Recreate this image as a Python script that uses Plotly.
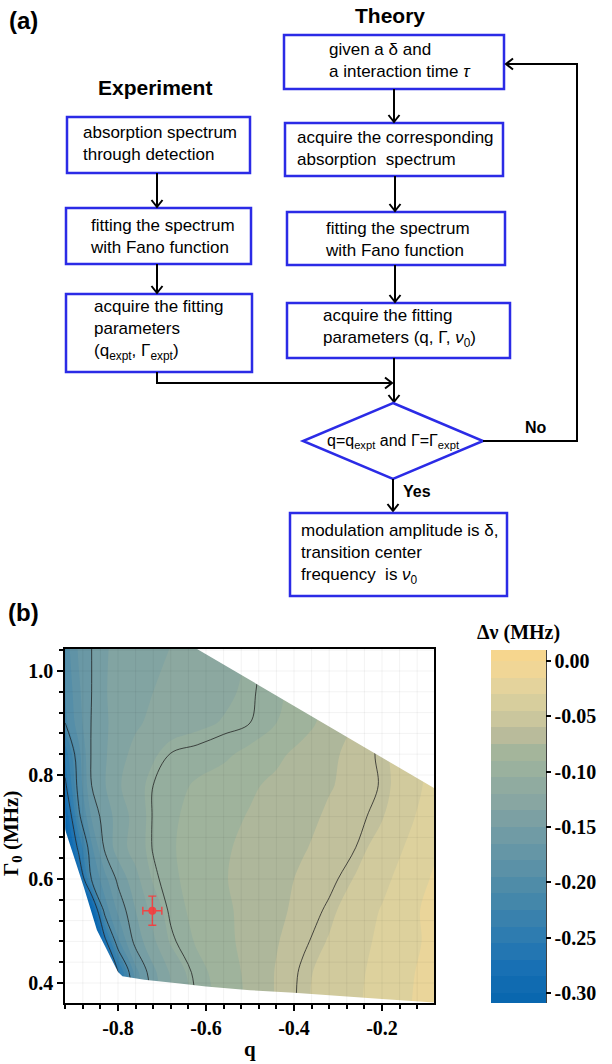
import numpy as np
import plotly.graph_objects as go

W, H = 612, 1064

# ---------------- panel (b) data ----------------
q_grid = [-0.92, -0.89, -0.86, -0.83, -0.80, -0.76, -0.72, -0.68, -0.62, -0.56,
          -0.50, -0.44, -0.38, -0.32, -0.26, -0.20, -0.14, -0.08]
gamma_grid = [0.36, 0.42, 0.48, 0.54, 0.60, 0.66, 0.72, 0.78, 0.84, 0.90, 0.96, 1.05]
dnu_g036 = [-0.52, -0.47, -0.42, -0.35, -0.26, -0.178, -0.143, -0.124, -0.098, -0.085, -0.072, -0.059, -0.047, -0.040, -0.032, -0.024, -0.016, -0.008]
dnu_g042 = [-0.50, -0.45, -0.40, -0.33, -0.25, -0.171, -0.139, -0.118, -0.095, -0.083, -0.071, -0.059, -0.048, -0.040, -0.033, -0.025, -0.017, -0.009]
dnu_g048 = [-0.46, -0.41, -0.36, -0.26, -0.183, -0.144, -0.123, -0.103, -0.088, -0.079, -0.070, -0.061, -0.052, -0.044, -0.035, -0.027, -0.019, -0.011]
dnu_g054 = [-0.42, -0.36, -0.30, -0.188, -0.162, -0.135, -0.114, -0.097, -0.085, -0.078, -0.070, -0.063, -0.056, -0.048, -0.038, -0.029, -0.019, -0.010]
dnu_g060 = [-0.38, -0.29, -0.197, -0.170, -0.146, -0.125, -0.103, -0.094, -0.082, -0.076, -0.070, -0.064, -0.058, -0.053, -0.044, -0.034, -0.023, -0.013]
dnu_g066 = [-0.32, -0.243, -0.183, -0.147, -0.128, -0.113, -0.099, -0.092, -0.082, -0.077, -0.071, -0.066, -0.061, -0.056, -0.050, -0.039, -0.028, -0.017]
dnu_g072 = [-0.29, -0.206, -0.163, -0.142, -0.130, -0.114, -0.099, -0.093, -0.084, -0.079, -0.074, -0.069, -0.064, -0.058, -0.053, -0.046, -0.033, -0.021]
dnu_g078 = [-0.255, -0.192, -0.150, -0.136, -0.122, -0.111, -0.100, -0.095, -0.088, -0.083, -0.077, -0.072, -0.066, -0.061, -0.056, -0.049, -0.037, -0.024]
dnu_g084 = [-0.235, -0.186, -0.148, -0.137, -0.125, -0.116, -0.107, -0.0995, -0.0966, -0.093, -0.0855, -0.078, -0.0705, -0.063, -0.0555, -0.048, -0.037, -0.026]
dnu_g090 = [-0.200, -0.172, -0.149, -0.138, -0.127, -0.122, -0.117, -0.112, -0.108, -0.104, -0.100, -0.090, -0.080, -0.070, -0.059, -0.049, -0.039, -0.029]
dnu_g096 = [-0.195, -0.168, -0.150, -0.137, -0.126, -0.123, -0.120, -0.118, -0.115, -0.108, -0.102, -0.093, -0.083, -0.072, -0.062, -0.052, -0.042, -0.032]
dnu_g105 = [-0.188, -0.163, -0.150, -0.138, -0.128, -0.124, -0.122, -0.120, -0.117, -0.110, -0.104, -0.094, -0.084, -0.075, -0.065, -0.055, -0.045, -0.035]
dnu = [dnu_g036, dnu_g042, dnu_g048, dnu_g054, dnu_g060, dnu_g066,
       dnu_g072, dnu_g078, dnu_g084, dnu_g090, dnu_g096, dnu_g105]

# boundary of the computed (q, Gamma) region
region_q = [-0.93, -0.656, -0.07, -0.07, -0.20, -0.40, -0.50, -0.60, -0.66, -0.74,
            -0.79, -0.80, -0.818, -0.848, -0.878, -0.905, -0.92, -0.93]
region_gamma = [1.06, 1.06, 0.769, 0.362, 0.369, 0.381, 0.386, 0.393, 0.399, 0.406,
                0.413, 0.421, 0.451, 0.502, 0.585, 0.656, 0.694, 0.72]

# experimental point
q_expt = [-0.722]
gamma_expt = [0.539]
q_err = [0.0216]
gamma_err = [0.028]

x_tick_vals = [-0.8, -0.6, -0.4, -0.2]
x_tick_text = ["-0.8", "-0.6", "-0.4", "-0.2"]
y_tick_vals = [0.4, 0.6, 0.8, 1.0]
y_tick_text = ["0.4", "0.6", "0.8", "1.0"]
cb_tick_vals = [0.0, -0.05, -0.10, -0.15, -0.20, -0.25, -0.30]
cb_tick_text = ["0.00", "-0.05", "-0.10", "-0.15", "-0.20", "-0.25", "-0.30"]

# ---------------- panel (a) text ----------------
label_a = "(a)"
label_b = "(b)"
title_exp = "Experiment"
title_theory = "Theory"
exp_texts = ["absorption spectrum<br>through detection",
             "fitting the spectrum<br>with Fano function",
             "acquire the fitting<br>parameters<br>(q<sub>expt</sub>, Γ<sub>expt</sub>)"]
theory_texts = ["given a δ and<br>a interaction time <i>τ</i>",
                "acquire the corresponding<br>absorption  spectrum",
                "fitting the spectrum<br>with Fano function",
                "acquire the fitting<br>parameters (q, Γ, <i>ν</i><sub>0</sub>)"]
decision_text = "q=q<sub>expt</sub> and Γ=Γ<sub>expt</sub>"
result_text = "modulation amplitude is δ,<br>transition center<br>frequency  is <i>ν</i><sub>0</sub>"
no_text = "No"
yes_text = "Yes"

# ---------------- styling helpers ----------------
BLUE = "#2b2be6"
SANS = "Liberation Sans, Arial, sans-serif"
SERIF = "Liberation Serif, Times New Roman, serif"
ZMIN, ZMAX = -0.309, 0.010
base_pts = [(-0.309, '#0766ae'), (-0.28, '#166fb4'), (-0.25, '#2c7bb1'), (-0.22, '#4286aa'),
            (-0.19, '#5990a7'), (-0.16, '#6e9aa5'), (-0.13, '#86a5a2'), (-0.10, '#98b09e'),
            (-0.08, '#a6b69b'), (-0.07, '#b6b99b'), (-0.05, '#cdc89d'), (-0.03, '#ddd19d'),
            (-0.015, '#ead59a'), (0.0, '#f5d691'), (0.01, '#f7d58c')]


def hex2rgb(h):
    return tuple(int(h[i:i + 2], 16) for i in (1, 3, 5))


def color_at(v):
    v = min(max(v, base_pts[0][0]), base_pts[-1][0])
    for (v0, c0), (v1, c1) in zip(base_pts[:-1], base_pts[1:]):
        if v0 <= v <= v1:
            t = (v - v0) / (v1 - v0) if v1 > v0 else 0
            a, b = hex2rgb(c0), hex2rgb(c1)
            return "rgb(%d,%d,%d)" % tuple(round(a[i] + t * (b[i] - a[i])) for i in range(3))
    return base_pts[-1][1]


LSTART, LEND, LSIZE = -0.30, 0.0, 0.015
D0, D1 = LSTART - LSIZE, LEND
fill_scale = [[s, color_at(D0 + s * (D1 - D0))] for s in np.linspace(0, 1, 41)]

# stepped colorscale for the colorbar (one step per filled band)
edges = [ZMIN] + [LSTART + k * LSIZE for k in range(int(round((LEND - LSTART) / LSIZE)) + 1)] + [ZMAX]
cb_scale = []
for a, b in zip(edges[:-1], edges[1:]):
    c = color_at((a + b) / 2)
    cb_scale.append([(a - ZMIN) / (ZMAX - ZMIN), c])
    cb_scale.append([(b - ZMIN) / (ZMAX - ZMIN), c])
cb_scale[0][0] = 0.0
cb_scale[-1][0] = 1.0


def px(x):
    return x / W


def py(y):
    return 1 - y / H


fig = go.Figure()

# filled contour bands
fig.add_trace(go.Contour(
    x=q_grid, y=gamma_grid, z=dnu,
    contours=dict(start=LSTART, end=LEND, size=LSIZE, coloring='fill', showlines=False),
    line=dict(width=0, smoothing=1.0),
    colorscale=fill_scale, showscale=False, hoverinfo='skip'))
# black contour lines
fig.add_trace(go.Contour(
    x=q_grid, y=gamma_grid, z=dnu,
    contours=dict(start=-0.25, end=-0.05, size=0.05, coloring='none'),
    line=dict(color='rgba(30,30,30,0.85)', width=0.9, smoothing=1.0),
    showscale=False, hoverinfo='skip'))

# white mask outside computed region
rq = region_q[::-1]
rg = region_gamma[::-1]
mask_x = [-1.2, 0.2, 0.2, -1.2, -1.2] + rq + [rq[0], -1.2]
mask_y = [1.3, 1.3, 0.1, 0.1, 1.3] + rg + [rg[0], 1.3]
fig.add_trace(go.Scatter(x=mask_x, y=mask_y, mode='lines', fill='toself',
                         fillcolor='white', line=dict(width=0, color='white'),
                         hoverinfo='skip', showlegend=False))

# experimental point
fig.add_trace(go.Scatter(
    x=q_expt, y=gamma_expt, mode='markers',
    marker=dict(size=8, color='#f04545'),
    error_x=dict(type='data', array=q_err, color='#f04545', thickness=1.4, width=4),
    error_y=dict(type='data', array=gamma_err, color='#f04545', thickness=1.4, width=4),
    showlegend=False))

# colorbar carrier
fig.add_trace(go.Scatter(
    x=[-5], y=[-5], mode='markers',
    marker=dict(color=[ZMIN], cmin=ZMIN, cmax=ZMAX, colorscale=cb_scale, size=1,
                showscale=True,
                colorbar=dict(x=px(491), xanchor='left', y=py(826.5), yanchor='middle',
                              len=353, lenmode='pixels', thickness=55, thicknessmode='pixels',
                              outlinewidth=0, xpad=0, ypad=0,
                              ticks='outside', ticklen=5, tickwidth=1.5, tickcolor='black',
                              tickmode='array', tickvals=cb_tick_vals, ticktext=cb_tick_text,
                              tickfont=dict(family=SERIF, size=20, color='black', weight='bold'))),
    hoverinfo='skip', showlegend=False))

XR = [-0.9205, -0.0818]
YR = [0.3615, 1.0423]
minor_x = [round(-0.92 + 0.04 * k, 2) for k in range(22)]
minor_y = [round(0.36 + 0.04 * k, 2) for k in range(18)]

axis_common = dict(showline=True, linecolor='black', linewidth=1.5, mirror=True,
                   showgrid=False, zeroline=False, ticks='outside', ticklen=6,
                   tickwidth=1.5, tickcolor='black',
                   tickfont=dict(family=SERIF, size=20, color='black', weight='bold'))
fig.update_layout(
    xaxis=dict(domain=[px(65), px(434)], range=XR, tickmode='array',
               tickvals=x_tick_vals, ticktext=x_tick_text,
               minor=dict(tickvals=minor_x, ticks='outside', ticklen=4, tickwidth=1.5,
                          tickcolor='black', showgrid=False),
               **axis_common),
    yaxis=dict(domain=[py(1003), py(649)], range=YR, tickmode='array',
               tickvals=y_tick_vals, ticktext=y_tick_text,
               minor=dict(tickvals=minor_y, ticks='outside', ticklen=4, tickwidth=1.5,
                          tickcolor='black', showgrid=False),
               **axis_common),
)

shapes = []
# faint grid over the map
for xv in minor_x:
    if XR[0] + 0.005 < xv < XR[1] - 0.005:
        shapes.append(dict(type='line', xref='x', yref='y', x0=xv, x1=xv, y0=YR[0], y1=YR[1],
                           line=dict(color='rgba(0,0,0,0.05)', width=1), layer='above'))
for yv in minor_y:
    if YR[0] + 0.005 < yv < YR[1] - 0.001:
        shapes.append(dict(type='line', xref='x', yref='y', x0=XR[0], x1=XR[1], y0=yv, y1=yv,
                           line=dict(color='rgba(0,0,0,0.05)', width=1), layer='above'))
# colorbar axis line
shapes.append(dict(type='line', xref='paper', yref='paper', x0=px(546), x1=px(546),
                   y0=py(1003), y1=py(650), line=dict(color='black', width=1.5)))

annotations = []


def box(x0, y0, x1, y1):
    shapes.append(dict(type='rect', xref='paper', yref='paper', x0=px(x0), x1=px(x1),
                       y0=py(y1), y1=py(y0), line=dict(color=BLUE, width=2.5),
                       fillcolor='white', layer='above'))


def seg(x0, y0, x1, y1):
    shapes.append(dict(type='line', xref='paper', yref='paper', x0=px(x0), x1=px(x1),
                       y0=py(y0), y1=py(y1), line=dict(color='black', width=2)))


def arrow(xt, yt, xh, yh, half=5.5, depth=7.0):
    seg(xt, yt, xh, yh)
    L = ((xh - xt) ** 2 + (yh - yt) ** 2) ** 0.5
    dx, dy = (xh - xt) / L, (yh - yt) / L
    nx, ny = -dy, dx
    p1 = (xh - dx * depth + nx * half, yh - dy * depth + ny * half)
    p2 = (xh - dx * depth - nx * half, yh - dy * depth - ny * half)
    shapes.append(dict(type='path', xref='paper', yref='paper',
                       path="M %f,%f L %f,%f L %f,%f" % (px(p1[0]), py(p1[1]), px(xh), py(yh),
                                                        px(p2[0]), py(p2[1])),
                       line=dict(color='black', width=2)))


def note(x, y, text, size=17, bold=False, xanchor='left', family=SANS, angle=0):
    annotations.append(dict(x=px(x), y=py(y), xref='paper', yref='paper', text=text,
                            showarrow=False, xanchor=xanchor, yanchor='middle', align='left',
                            textangle=angle,
                            font=dict(family=family, size=size, color='black',
                                      weight='bold' if bold else 'normal')))


# experiment column
box(67, 117, 250, 173)
box(66, 208, 251, 264)
box(66, 294, 252, 372)
note(81, 143.5, exp_texts[0])
note(88, 236.5, exp_texts[1])
note(92, 330, exp_texts[2])
arrow(157, 173, 157, 207)
arrow(157, 264, 157, 293)
seg(157, 372, 157, 384)
arrow(156, 383, 392, 383)

# theory column
box(284, 35, 504, 89)
box(285, 123, 503, 176)
box(287, 212, 505, 265)
box(287, 303, 510, 358)
note(327, 60.5, theory_texts[0])
note(295, 148.5, theory_texts[1])
note(323, 239.5, theory_texts[2])
note(321, 328.5, theory_texts[3])
arrow(394, 89, 394, 122)
arrow(395, 176, 395, 211)
arrow(395, 265, 395, 302)
arrow(394, 358, 394, 402)

# decision diamond
shapes.append(dict(type='path', xref='paper', yref='paper',
                   path="M %f,%f L %f,%f L %f,%f L %f,%f Z" % (
                       px(393), py(403), px(483), py(441), px(393), py(479), px(303), py(441)),
                   line=dict(color=BLUE, width=2.5), fillcolor='white', layer='above'))
note(393, 441, decision_text, size=16, xanchor='center')
seg(483, 441, 578, 441)
seg(577, 442, 577, 63)
arrow(578, 64, 506, 64)
note(536, 428, no_text, size=16, bold=True, xanchor='center')
arrow(393, 479, 393, 511)
note(417, 491, yes_text, size=16, bold=True, xanchor='center')

# result box
box(290, 513, 507, 596)
note(299, 553.5, result_text)

# titles and panel labels
note(390, 15, title_theory, size=21, bold=True, xanchor='center')
note(155, 88, title_exp, size=21, bold=True, xanchor='center')
note(23, 20, label_a, size=24, bold=True, xanchor='center')
note(23, 612, label_b, size=24, bold=True, xanchor='center')

# panel (b) axis titles
note(249.5, 1049, "q", size=21, bold=True, xanchor='center', family=SERIF)
note(12, 834, "Γ<sub>0</sub> (MHz)", size=21, bold=True, xanchor='center', family=SERIF, angle=-90)
note(518, 632, "Δν (MHz)", size=20, bold=True, xanchor='center', family=SERIF)

fig.update_layout(width=W, height=H, autosize=False,
                  margin=dict(l=0, r=0, t=0, b=0, autoexpand=False),
                  paper_bgcolor='white', plot_bgcolor='white',
                  showlegend=False, shapes=shapes, annotations=annotations)

fig.write_html("out.html", config={'displayModeBar': False},
               post_script="document.body.style.margin='0px';document.body.style.overflow='hidden';")
